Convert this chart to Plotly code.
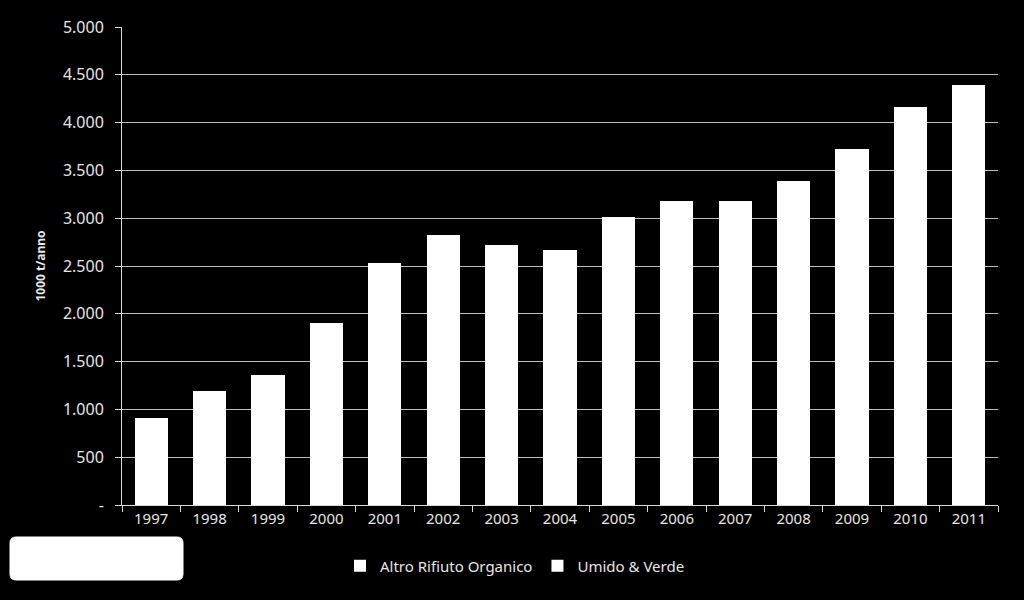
import plotly.graph_objects as go

years = ["1997", "1998", "1999", "2000", "2001", "2002", "2003", "2004",
         "2005", "2006", "2007", "2008", "2009", "2010", "2011"]
umido_verde = [910, 1190, 1360, 1900, 2535, 2825, 2720, 2670,
               3010, 3180, 3180, 3390, 3720, 4165, 4395]
altro_organico = [None] * len(years)

y_tickvals = [0, 500, 1000, 1500, 2000, 2500, 3000, 3500, 4000, 4500, 5000]
y_ticktext = ["-", "500", "1.000", "1.500", "2.000", "2.500", "3.000",
              "3.500", "4.000", "4.500", "5.000"]

font_fam = "Noto Sans, Liberation Sans, sans-serif"
txt = "#e6e6e6"

fig = go.Figure()
fig.add_trace(go.Bar(x=years, y=altro_organico, name="Altro Rifiuto Organico",
                     marker=dict(color="white", line=dict(width=0))))
fig.add_trace(go.Bar(x=years, y=umido_verde, name="Umido & Verde",
                     marker=dict(color="white", line=dict(width=0))))

W, L, R, T, B = 1024, 122, 26, 27, 95
pw = W - L - R
ph = 600 - T - B

def px(x):
    return (x - L) / pw

def py(y):
    return (600 - B - y) / ph

x0, x1, y0, y1, r = 10, 183, 537, 580, 6
def pt(x, y):
    return f"{px(x)},{py(y)}"
path = (f"M {pt(x0 + r, y0)} L {pt(x1 - r, y0)} Q {pt(x1, y0)} {pt(x1, y0 + r)} "
        f"L {pt(x1, y1 - r)} Q {pt(x1, y1)} {pt(x1 - r, y1)} "
        f"L {pt(x0 + r, y1)} Q {pt(x0, y1)} {pt(x0, y1 - r)} "
        f"L {pt(x0, y0 + r)} Q {pt(x0, y0)} {pt(x0 + r, y0)} Z")

fig.update_layout(
    width=1024, height=600,
    paper_bgcolor="black", plot_bgcolor="black",
    margin=dict(l=L, r=R, t=T, b=B),
    barmode="stack", bargap=0.43,
    font=dict(family=font_fam, color=txt, size=16),
    showlegend=True,
    legend=dict(orientation="h", x=px(515), y=py(566), xanchor="center",
                yanchor="middle", font=dict(size=15, color=txt),
                traceorder="normal", itemwidth=30,
                bgcolor="rgba(0,0,0,0)"),
    xaxis=dict(type="category", showline=True, linecolor="#d9d9d9", linewidth=1,
               ticks="outside", tickson="boundaries", ticklen=6,
               tickcolor="#d9d9d9", showgrid=False,
               tickfont=dict(size=15, color=txt)),
    yaxis=dict(range=[0, 5000], tickvals=y_tickvals, ticktext=y_ticktext,
               showline=True, linecolor="#d9d9d9", linewidth=1,
               ticks="outside", ticklen=6, tickcolor="#d9d9d9",
               ticklabelstandoff=8,
               showgrid=True, gridcolor="#bfbfbf", gridwidth=1,
               zeroline=False,
               tickfont=dict(size=16, color=txt),
               title=dict(text="<b>1000 t/anno</b>", font=dict(size=12, color=txt),
                          standoff=14)),
    shapes=[dict(type="path", path=path, xref="paper", yref="paper",
                 fillcolor="white", line=dict(color="white", width=1))],
)

fig.write_html("out.html")
